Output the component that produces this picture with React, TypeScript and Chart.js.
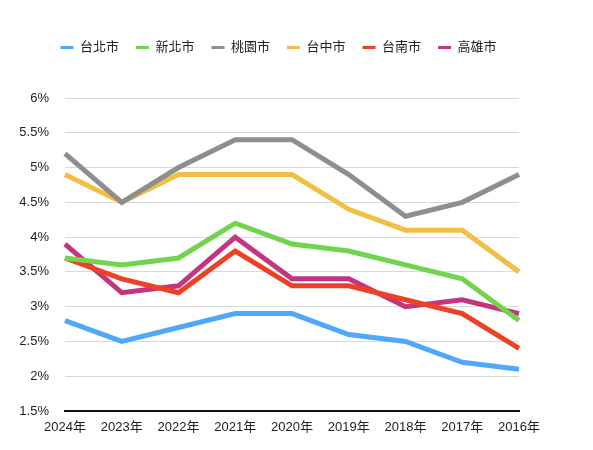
import React, { useEffect, useRef } from "react";
import { Chart, registerables } from "chart.js";

Chart.register(...registerables);

const categories = ["2024年", "2023年", "2022年", "2021年", "2020年", "2019年", "2018年", "2017年", "2016年"];
const seriesNames = ["台北市", "新北市", "桃園市", "台中市", "台南市", "高雄市"];
const taipei = [2.8, 2.5, 2.7, 2.9, 2.9, 2.6, 2.5, 2.2, 2.1];
const newTaipei = [3.7, 3.6, 3.7, 4.2, 3.9, 3.8, 3.6, 3.4, 2.8];
const taoyuan = [5.2, 4.5, 5.0, 5.4, 5.4, 4.9, 4.3, 4.5, 4.9];
const taichung = [4.9, 4.5, 4.9, 4.9, 4.9, 4.4, 4.1, 4.1, 3.5];
const tainan = [3.7, 3.4, 3.2, 3.8, 3.3, 3.3, 3.1, 2.9, 2.4];
const kaohsiung = [3.9, 3.2, 3.3, 4.0, 3.4, 3.4, 3.0, 3.1, 2.9];
const colors = ["#4fa8f9", "#72d44a", "#8e8e8e", "#f2bf46", "#ee4024", "#c4357f"];
const yMin = 1.5;
const yMax = 6;
const yStep = 0.5;

const FONT = "'Liberation Sans', 'Noto Sans CJK TC', sans-serif";

export default function App() {
  const ref = useRef<HTMLCanvasElement | null>(null);
  useEffect(() => {
    if (!ref.current) return;
    const all = [taipei, newTaipei, taoyuan, taichung, tainan, kaohsiung];
    const legendSpacer = {
      id: "legendSpacer",
      afterInit(chart: any) {
        const lg = chart.legend;
        if (lg && !lg.__patched) {
          const origFit = lg.fit;
          lg.fit = function () {
            origFit.call(this);
            this.height = 74;
          };
          const origDraw = lg.draw;
          lg.draw = function () {
            const ctx = this.ctx;
            ctx.save();
            ctx.translate(19, 0);
            origDraw.call(this);
            ctx.restore();
          };
          lg.__patched = true;
        }
      },
    };
    const chart = new Chart(ref.current, {
      type: "line",
      data: {
        labels: categories,
        datasets: all.map((d, i) => ({
          label: seriesNames[i],
          data: d,
          borderColor: colors[i],
          backgroundColor: colors[i],
          borderWidth: 5,
          pointRadius: 0,
          tension: 0,
          fill: false,
        })),
      },
      options: {
        responsive: false,
        animation: false,
        layout: { padding: { top: 24, left: 0, right: 74, bottom: 0 } },
        plugins: {
          tooltip: { enabled: false },
          legend: {
            position: "top",
            labels: {
              font: { family: FONT, size: 13 },
              color: "#222",
              boxWidth: 13,
              boxHeight: 3,
              padding: 17,
              generateLabels: (c: any) =>
                (Chart.defaults.plugins.legend.labels as any)
                  .generateLabels(c)
                  .map((l: any) => ({ ...l, lineWidth: 0, fillStyle: l.strokeStyle })),
            },
          },
        },
        scales: {
          x: {
            grid: { display: false, drawTicks: false },
            border: { display: true, color: "#111", width: 2 },
            ticks: { font: { family: FONT, size: 13 }, color: "#222", padding: 9, maxRotation: 0 },
            afterFit: (s: any) => {
              s.height = 39;
            },
          },
          y: {
            min: yMin,
            max: yMax,
            grid: { color: "#d9d9d9", lineWidth: 1, drawTicks: false },
            border: { display: false },
            ticks: {
              stepSize: yStep,
              font: { family: FONT, size: 13 },
              color: "#222",
              padding: 16,
              callback: (v: any) => `${v}%`,
            },
            afterFit: (s: any) => {
              s.width = 65;
            },
          },
        },
      },
      plugins: [legendSpacer],
    });
    return () => chart.destroy();
  }, []);
  return (
    <canvas
      ref={ref}
      width={593}
      height={450}
      style={{ position: "absolute", left: 0, top: 0, width: 593, height: 450 }}
    />
  );
}
